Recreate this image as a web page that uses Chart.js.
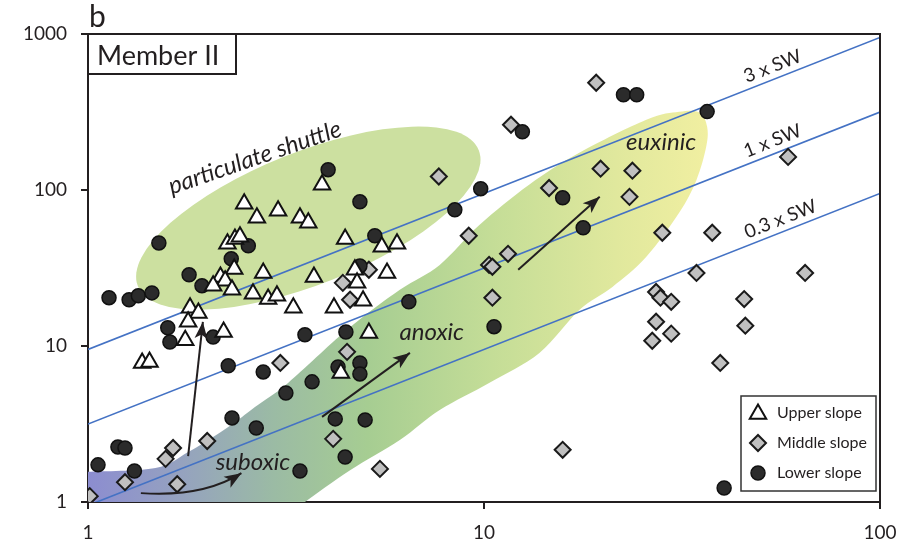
<!DOCTYPE html>
<html>
<head>
<meta charset="utf-8">
<script src="https://cdn.jsdelivr.net/npm/chart.js@4.4.1/dist/chart.umd.min.js"></script>
<style>
  html, body { margin: 0; padding: 0; background: #fff; }
  canvas { display: block; }
</style>
</head>
<body>
<canvas id="chart" width="919" height="547"></canvas>
<script>
// values (both axes log)
const upperSlope = [
  [3.90,108],[2.48,81.5],[2.67,66.3],[3.02,73.6],[3.43,66.3],[3.60,61.6],[2.25,45.2],[2.35,48.6],
  [2.42,50.1],[4.46,48.6],[5.52,43.2],[6.03,45.2],[2.34,31.2],[2.77,29.4],[2.16,27.7],[2.22,26.2],
  [2.07,24.3],[2.31,22.9],[2.61,21.6],[2.85,20.0],[3.00,21.0],[3.30,17.6],[3.72,27.7],[4.18,17.6],
  [4.72,30.8],[4.78,25.4],[5.69,29.4],[4.95,19.5],[5.12,12.1],[1.81,17.6],[1.90,16.3],[1.79,14.3],
  [1.76,10.9],[2.20,12.3],[1.37,7.79],[1.43,7.91],[4.35,6.72]
];
const middleSlope = [
  [19.2,487],[11.7,262],[7.69,122],[14.6,103],[19.7,137],[23.7,133],[23.3,90.4],[9.15,50.9],
  [11.5,39.0],[10.3,33.1],[10.5,32.2],[10.5,20.4],[15.8,2.16],[58.6,163],[28.2,53.2],[37.7,53.2],
  [34.4,29.4],[64.7,29.4],[27.2,22.2],[27.9,20.4],[29.7,19.2],[45.4,20.0],[27.2,14.3],[29.7,12.0],
  [26.6,10.8],[45.7,13.5],[39.5,7.79],[5.12,30.8],[4.40,25.4],[4.59,19.8],[4.51,9.17],[3.06,7.79],
  [4.16,2.54],[5.46,1.63],[1.64,2.22],[1.57,1.89],[2.00,2.46],[1.24,1.34],[1.68,1.30],[1.01,1.09]
];
const lowerSlope = [
  [22.5,408],[24.3,408],[36.6,318],[12.5,236],[9.81,102],[8.44,74.6],[15.8,89.1],[17.8,57.2],
  [4.04,135],[4.86,84],[5.30,50.9],[4.86,32.6],[6.46,19.2],[10.6,13.3],[3.53,11.8],[4.48,12.3],
  [4.28,7.34],[4.86,7.79],[4.86,6.62],[3.68,5.89],[3.16,5.00],[4.21,3.41],[5.01,3.36],[4.46,1.94],
  [3.43,1.58],[1.51,45.8],[2.54,43.9],[2.30,36.2],[1.80,28.6],[1.94,24.3],[1.13,20.4],[1.27,19.8],
  [1.34,21.0],[1.45,21.9],[1.59,13.1],[1.61,10.6],[2.07,11.4],[2.26,7.46],[2.77,6.82],[2.31,3.46],
  [2.66,2.98],[1.19,2.25],[1.24,2.22],[1.06,1.73],[1.31,1.58],[40.4,1.23]
];

// seawater ratio lines (end points)
const sw03 = [[1,0.95],[100,95]];
const sw1 = [[1,3.16],[100,316]];
const sw3 = [[1,9.5],[100,950]];

const xTicks = [1, 10, 100];
const yTicks = [1, 10, 100, 1000];

// shaded fields, in data units
const bandOutline = [
  [0.9,1.54],[1.00,1.56],[1.48,1.65],[1.79,2.09],[2.26,3.03],[2.64,4.07],[3.20,5.80],[4.51,12.7],
  [6.13,22.9],[7.73,33.1],[9.75,59.8],[13.0,108],[17.4,173],[25.7,282],[31.1,317],[35.0,314],
  [36.6,254],[36.4,189],[34.4,116],[31.1,71.4],[25.7,37.3],[21.1,23.9],[17.4,17.0],[13.8,9.03],
  [10.3,5.8],[7.73,3.89],[6.13,2.50],[4.59,1.60],[3.53,1.0],[3.24,0.83]
];
const shuttleCenter = [3.6, 66];
const shuttleTip = [9.7, 180];

const arrows = [
  { from: [1.79,1.97], to: [1.95,14.3] },
  { from: [1.36,1.14], ctrl: [1.95,1.07], to: [2.44,1.53] },
  { from: [3.90,3.51], to: [6.50,9.03] },
  { from: [12.2,30.8], to: [19.6,90.4] }
];

const INK = '#231f20';
const toPts = arr => arr.map(([x, y]) => ({ x, y }));

function smoothPath(ctx, pts) {
  ctx.moveTo(pts[0].x, pts[0].y);
  for (let i = 0; i < pts.length - 1; i++) {
    const p0 = pts[i - 1] || pts[i], p1 = pts[i], p2 = pts[i + 1], p3 = pts[i + 2] || p2;
    ctx.bezierCurveTo(
      p1.x + (p2.x - p0.x) / 6, p1.y + (p2.y - p0.y) / 6,
      p2.x - (p3.x - p1.x) / 6, p2.y - (p3.y - p1.y) / 6,
      p2.x, p2.y);
  }
}

function arrowHead(ctx, x, y, ang) {
  const len = 17, half = 6.5;
  ctx.beginPath();
  ctx.moveTo(x, y);
  ctx.lineTo(x - len * Math.cos(ang) + half * Math.sin(ang), y - len * Math.sin(ang) - half * Math.cos(ang));
  ctx.lineTo(x - len * 0.75 * Math.cos(ang), y - len * 0.75 * Math.sin(ang));
  ctx.lineTo(x - len * Math.cos(ang) - half * Math.sin(ang), y - len * Math.sin(ang) + half * Math.cos(ang));
  ctx.closePath();
  ctx.fill();
}

function marker(ctx, style, x, y) {
  ctx.save();
  ctx.fillStyle = style.backgroundColor;
  ctx.strokeStyle = style.borderColor;
  ctx.lineWidth = style.borderWidth;
  Chart.helpers.drawPoint(ctx, { pointStyle: style.pointStyle, radius: style.pointRadius, rotation: 0, borderWidth: style.borderWidth }, x, y);
  ctx.restore();
}

const decor = {
  id: 'decor',
  beforeDatasetsDraw(chart) {
    const { ctx, chartArea: a, scales: { x, y } } = chart;
    const px = p => ({ x: x.getPixelForValue(p[0]), y: y.getPixelForValue(p[1]) });
    ctx.save();
    ctx.beginPath();
    ctx.rect(a.left, a.top, a.width, a.height);
    ctx.clip();

    // redox band, blue -> green -> yellow
    const g = ctx.createLinearGradient(a.left, 0, x.getPixelForValue(37), 0);
    g.addColorStop(0, '#8c8dd0');
    g.addColorStop(0.15, '#95a2bf');
    g.addColorStop(0.3, '#9bbba4');
    g.addColorStop(0.45, '#a6cd92');
    g.addColorStop(0.65, '#c4dd97');
    g.addColorStop(0.85, '#e0e89d');
    g.addColorStop(1, '#f1efa1');
    const pts = bandOutline.map(px);
    ctx.beginPath();
    smoothPath(ctx, pts);
    const corner = px([0.9, 0.83]);
    ctx.lineTo(corner.x, corner.y);
    ctx.closePath();
    ctx.fillStyle = g;
    ctx.fill();

    // particulate shuttle field
    const c0 = px(shuttleCenter), c1 = px(shuttleTip);
    const ra = Math.hypot(c1.x - c0.x, c1.y - c0.y);
    const ang = Math.atan2(c1.y - c0.y, c1.x - c0.x);
    ctx.beginPath();
    ctx.ellipse(c0.x, c0.y, ra, ra * 0.36, ang, 0, Math.PI * 2);
    ctx.fillStyle = '#cce0a0';
    ctx.fill();
    ctx.restore();
  },
  afterDatasetsDraw(chart) {
    const { ctx, scales: { x, y } } = chart;
    const px = p => ({ x: x.getPixelForValue(p[0]), y: y.getPixelForValue(p[1]) });
    ctx.save();
    ctx.strokeStyle = INK;
    ctx.fillStyle = INK;
    ctx.lineWidth = 2;
    arrows.forEach(ar => {
      const p0 = px(ar.from), p1 = px(ar.to);
      let ang;
      ctx.beginPath();
      ctx.moveTo(p0.x, p0.y);
      if (ar.ctrl) {
        const c = px(ar.ctrl);
        ctx.quadraticCurveTo(c.x, c.y, p1.x, p1.y);
        ang = Math.atan2(p1.y - c.y, p1.x - c.x);
      } else {
        ctx.lineTo(p1.x, p1.y);
        ang = Math.atan2(p1.y - p0.y, p1.x - p0.x);
      }
      ctx.stroke();
      arrowHead(ctx, p1.x, p1.y, ang);
    });

    // field labels
    ctx.textAlign = 'center';
    ctx.textBaseline = 'middle';
    ctx.font = 'italic 24px Lato';
    const lbl = (t, p, rot) => {
      const q = px(p);
      ctx.save();
      ctx.translate(q.x, q.y);
      ctx.rotate(rot || 0);
      ctx.fillText(t, 0, 0);
      ctx.restore();
    };
    lbl('particulate shuttle', [2.64, 161], -19 * Math.PI / 180);
    lbl('anoxic', [7.38, 12.3]);
    lbl('euxinic', [28.0, 201]);
    lbl('suboxic', [2.61, 1.81]);

    // seawater line labels
    ctx.font = '19px Lato';
    ctx.textBaseline = 'bottom';
    [[sw3, '3 x SW', 55], [sw1, '1 x SW', 55], [sw03, '0.3 x SW', 57.6]].forEach(([ln, t, xv]) => {
      const k = ln[0][1] / ln[0][0];
      const p = px([xv, k * xv]);
      const q = px([xv * 2, k * xv * 2]);
      ctx.save();
      ctx.translate(p.x, p.y);
      ctx.rotate(Math.atan2(q.y - p.y, q.x - p.x));
      ctx.fillText(t, 0, -3);
      ctx.restore();
    });
    ctx.restore();
  },
  afterDraw(chart) {
    const { ctx, chartArea: a } = chart;
    ctx.save();
    ctx.strokeStyle = INK;
    ctx.lineWidth = 2;
    ctx.beginPath();
    ctx.moveTo(a.left, a.top);
    ctx.lineTo(a.right, a.top);
    ctx.lineTo(a.right, a.bottom);
    ctx.stroke();

    // panel letter and member box
    ctx.fillStyle = INK;
    ctx.textBaseline = 'alphabetic';
    ctx.textAlign = 'left';
    ctx.font = '30px Lato';
    ctx.fillText('b', a.left + 1, 27);
    ctx.fillStyle = '#fff';
    ctx.fillRect(a.left, a.top, 148, 40);
    ctx.strokeRect(a.left, a.top, 148, 40);
    ctx.fillStyle = INK;
    ctx.font = '27px Lato';
    ctx.fillText('Member II', a.left + 9, a.top + 31);

    // legend
    const lx = a.right - 139, ly = a.bottom - 106;
    ctx.fillStyle = '#fff';
    ctx.fillRect(lx, ly, 135, 95);
    ctx.lineWidth = 1.5;
    ctx.strokeStyle = '#333';
    ctx.strokeRect(lx, ly, 135, 95);
    ctx.font = '16px Lato';
    ctx.textBaseline = 'middle';
    chart.data.datasets.filter(d => d.label).forEach((d, i) => {
      const yy = ly + 17 + i * 30;
      marker(ctx, d, lx + 17, yy + (d.pointStyle === 'triangle' ? 1 : 0));
      ctx.fillStyle = INK;
      ctx.fillText(d.label, lx + 36, yy);
    });
    ctx.restore();
  }
};

const pointSet = (label, data, style, order) => Object.assign({ label, data: toPts(data), order, pointHoverRadius: 0 }, style);

Chart.defaults.font.family = 'Lato';
Chart.defaults.color = INK;

new Chart(document.getElementById('chart'), {
  type: 'scatter',
  data: {
    datasets: [
      pointSet('Upper slope', upperSlope, { pointStyle: 'triangle', pointRadius: 9.5, backgroundColor: '#ffffff', borderColor: '#111', borderWidth: 2 }, 0),
      pointSet('Middle slope', middleSlope, { pointStyle: 'rectRot', pointRadius: 8, backgroundColor: '#c0c0c0', borderColor: '#1a1a1a', borderWidth: 2 }, 2),
      pointSet('Lower slope', lowerSlope, { pointStyle: 'circle', pointRadius: 7, backgroundColor: '#2b2b2b', borderColor: '#111', borderWidth: 1.5 }, 1),
      ...[sw03, sw1, sw3].map(ln => ({
        data: toPts(ln), showLine: true, pointRadius: 0, borderColor: '#4472c4', borderWidth: 1.6, order: 5
      }))
    ]
  },
  options: {
    responsive: false,
    animation: false,
    devicePixelRatio: 1,
    events: [],
    layout: { padding: { top: 34, right: 39, left: 0, bottom: 0 } },
    plugins: { legend: { display: false }, tooltip: { enabled: false } },
    scales: {
      x: {
        type: 'logarithmic', min: 1, max: 100,
        afterBuildTicks: s => { s.ticks = xTicks.map(v => ({ value: v })); },
        afterFit: s => { s.height = 45; },
        ticks: { callback: v => String(v), font: { size: 19 }, color: INK, padding: 12, maxRotation: 0 },
        grid: { drawOnChartArea: false, drawTicks: true, tickLength: 7, color: INK, lineWidth: 2 },
        border: { color: INK, width: 2 }
      },
      y: {
        type: 'logarithmic', min: 1, max: 1000,
        afterBuildTicks: s => { s.ticks = yTicks.map(v => ({ value: v })); },
        afterFit: s => { s.width = 88; },
        ticks: { callback: v => String(v), font: { size: 19 }, color: INK, padding: 14 },
        grid: { drawOnChartArea: false, drawTicks: true, tickLength: 7, color: INK, lineWidth: 2 },
        border: { color: INK, width: 2 }
      }
    }
  },
  plugins: [decor]
});
</script>
</body>
</html>
